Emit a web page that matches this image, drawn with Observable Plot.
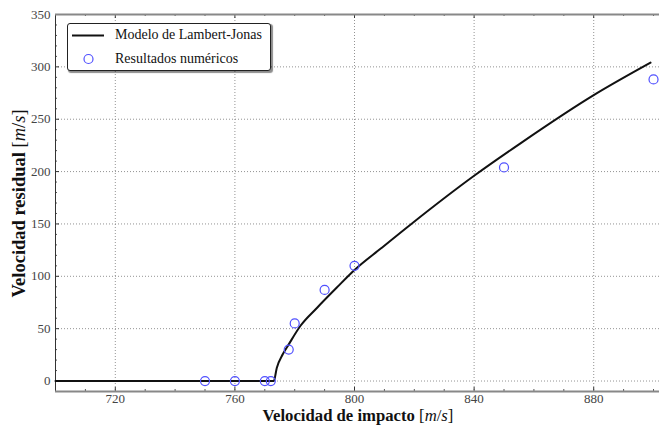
<!DOCTYPE html>
<html><head><meta charset="utf-8">
<script src="https://cdn.jsdelivr.net/npm/d3@7"></script>
<script src="https://cdn.jsdelivr.net/npm/@observablehq/plot@0.6"></script>
<style>
html,body{margin:0;padding:0;background:#fff;}
#chart{position:relative;width:659px;height:425px;font-family:"Liberation Serif",serif;}
#legend{position:absolute;left:67px;top:23px;width:202px;height:46px;border:1px solid #222;border-radius:3px;box-shadow:1.5px 1.5px 1px rgba(0,0,0,0.45);background:#fff;font-family:"Liberation Serif",serif;font-size:14px;color:#111;}
#legend .row{position:absolute;left:0;height:20px;line-height:20px;}
#legend .sw{position:absolute;left:0;top:0;width:46px;height:20px;}
#legend .lab{position:absolute;left:47px;top:0;white-space:nowrap;}
</style></head><body>
<div id="chart"><div id="legend">
  <div class="row" style="top:1px"><svg class="sw" width="46" height="20"><line x1="4" x2="36" y1="10.5" y2="10.5" stroke="#111" stroke-width="2"/></svg><span class="lab">Modelo de Lambert-Jonas</span></div>
  <div class="row" style="top:25px"><svg class="sw" width="46" height="20"><circle cx="20.5" cy="10" r="4.5" fill="none" stroke="#5050ff" stroke-width="1.2"/></svg><span class="lab">Resultados numéricos</span></div>
</div></div>
<script>
// Lambert-Jonas model curve
const impactoModelo = [700, 773, 774, 776, 778, 782, 787.5, 794, 800, 809, 819, 840, 855.5, 880, 899];
const residualModelo = [0, 0, 12.5, 25.5, 35, 53, 70, 89, 106, 127, 150, 196, 227, 273, 304];
// Numerical results
const impactoNum = [750, 760, 770, 772, 778, 780, 790, 800, 850, 900];
const residualNum = [0, 0, 0, 0, 30, 55, 87, 110, 204, 288];
// Ticks
const xTicks = [720, 760, 800, 840, 880];
const xMinor = [700, 710, 730, 740, 750, 770, 780, 790, 810, 820, 830, 850, 860, 870, 890, 900];
const yTicks = [0, 50, 100, 150, 200, 250, 300, 350];
const yMinor = [-10, 10, 20, 30, 40, 60, 70, 80, 90, 110, 120, 130, 140, 160, 170, 180, 190, 210, 220, 230, 240, 260, 270, 280, 290, 310, 320, 330, 340];
const xDomain = [700, 902];
const yDomain = [-10, 350];

const modelo = impactoModelo.map((x, i) => ({x, y: residualModelo[i]}));
const numericos = impactoNum.map((x, i) => ({x, y: residualNum[i]}));

const W = 659, H = 425, mL = 55, mR = 0, mT = 14, mB = 34;
const fh = H - mT - mB;
const gridStyle = {stroke: "#777", strokeOpacity: 1, strokeWidth: 0.8, strokeDasharray: "1,2"};

const plot = Plot.plot({
  width: W, height: H,
  marginLeft: mL, marginRight: mR, marginTop: mT, marginBottom: mB,
  style: {fontFamily: "Liberation Serif", fontSize: "13px", color: "#444", background: "#fff", overflow: "visible"},
  x: {domain: xDomain},
  y: {domain: yDomain},
  marks: [
    Plot.gridX(xTicks, gridStyle),
    Plot.gridY(yTicks, gridStyle),
    Plot.tickX(xTicks, {x: d => d, insetTop: fh - 4, stroke: "#333"}),
    Plot.tickX(xTicks, {x: d => d, insetBottom: fh - 4, stroke: "#333"}),
    Plot.tickX(xMinor, {x: d => d, insetTop: fh - 2, stroke: "#555"}),
    Plot.tickX(xMinor, {x: d => d, insetBottom: fh - 2, stroke: "#555"}),
    Plot.tickY(yTicks, {y: d => d, insetRight: W - mL - mR - 4, stroke: "#333"}),
    Plot.tickY(yMinor, {y: d => d, insetRight: W - mL - mR - 2, stroke: "#555"}),
    Plot.axisX(xTicks, {tickSize: 0, tickPadding: 2, label: null, fill: "#444"}),
    Plot.axisY(yTicks, {tickSize: 0, tickPadding: 5, label: null, fill: "#444"}),
    Plot.ruleX([xDomain[0]], {stroke: "#333", strokeWidth: 1}),
    Plot.ruleY([yDomain[0]], {stroke: "#888", strokeWidth: 2}),
    Plot.ruleY([yDomain[1]], {stroke: "#888", strokeWidth: 2}),
    Plot.line(modelo, {x: "x", y: "y", stroke: "#111", strokeWidth: 2, curve: "monotone-x"}),
    Plot.dot(numericos, {x: "x", y: "y", r: 4.5, stroke: "#5050ff", strokeWidth: 1.2, fill: "none"})
  ]
});

const chart = document.getElementById("chart");
chart.insertBefore(plot, chart.firstChild);

const svg = d3.select(plot);
// x label
const xl = svg.append("text")
  .attr("x", 358).attr("y", 421)
  .attr("text-anchor", "middle")
  .attr("fill", "#111")
  .style("font-family", "Liberation Serif").style("font-size", "16.7px");
xl.append("tspan").attr("font-weight", "bold").text("Velocidad de impacto ");
xl.append("tspan").text("[");
xl.append("tspan").attr("font-style", "italic").text("m");
xl.append("tspan").text("/");
xl.append("tspan").attr("font-style", "italic").text("s");
xl.append("tspan").text("]");
// y label
const yl = svg.append("text")
  .attr("transform", "translate(25,203.5) rotate(-90)")
  .attr("text-anchor", "middle")
  .attr("fill", "#111")
  .style("font-family", "Liberation Serif").style("font-size", "18.5px");
yl.append("tspan").attr("font-weight", "bold").text("Velocidad residual ");
yl.append("tspan").text("[");
yl.append("tspan").attr("font-style", "italic").text("m");
yl.append("tspan").text("/");
yl.append("tspan").attr("font-style", "italic").text("s");
yl.append("tspan").text("]");
</script>
</body></html>
